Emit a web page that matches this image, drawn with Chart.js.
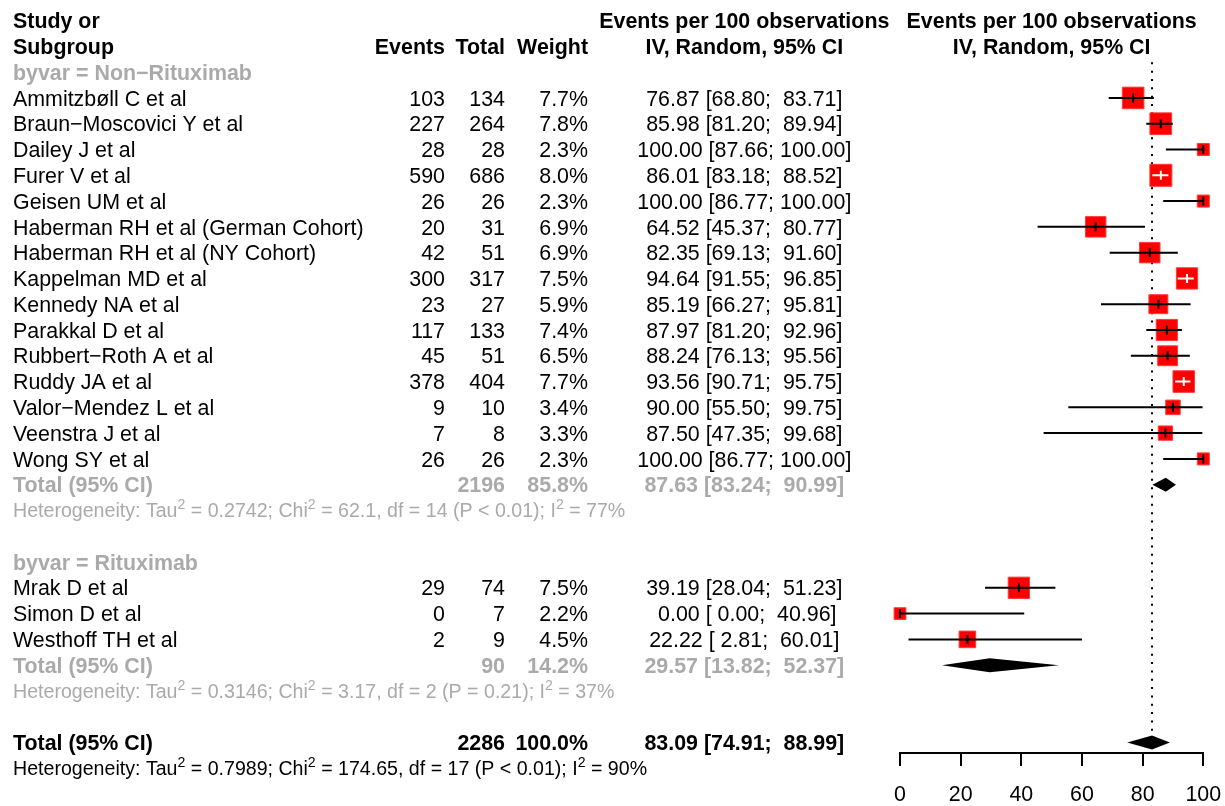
<!DOCTYPE html>
<html>
<head>
<meta charset="utf-8">
<script src="https://cdn.jsdelivr.net/npm/chart.js@4.4.0/dist/chart.umd.min.js"></script>
<style>
  html, body { margin: 0; padding: 0; background: #ffffff; }
  canvas { display: block; }
</style>
</head>
<body>
<canvas id="forest" width="1225" height="806"></canvas>
<script>
// ---- Study-level data -------------------------------------------------
const studyLabels = [
  "Ammitzbøll C et al", "Braun−Moscovici Y et al", "Dailey J et al", "Furer V et al",
  "Geisen UM et al", "Haberman RH et al (German Cohort)", "Haberman RH et al (NY Cohort)",
  "Kappelman MD et al", "Kennedy NA et al", "Parakkal D et al", "Rubbert−Roth A et al",
  "Ruddy JA et al", "Valor−Mendez L et al", "Veenstra J et al", "Wong SY et al",
  "Mrak D et al", "Simon D et al", "Westhoff TH et al"
];
const studyGroup = [0,0,0,0,0,0,0,0,0,0,0,0,0,0,0,1,1,1];
const studyEvents = [103,227,28,590,26,20,42,300,23,117,45,378,9,7,26,29,0,2];
const studyTotals = [134,264,28,686,26,31,51,317,27,133,51,404,10,8,26,74,7,9];
const studyWeights = [7.7,7.8,2.3,8.0,2.3,6.9,6.9,7.5,5.9,7.4,6.5,7.7,3.4,3.3,2.3,7.5,2.2,4.5];
const studyEst = [76.87,85.98,100.00,86.01,100.00,64.52,82.35,94.64,85.19,87.97,88.24,93.56,90.00,87.50,100.00,39.19,0.00,22.22];
const studyLo  = [68.80,81.20,87.66,83.18,86.77,45.37,69.13,91.55,66.27,81.20,76.13,90.71,55.50,47.35,86.77,28.04,0.00,2.81];
const studyHi  = [83.71,89.94,100.00,88.52,100.00,80.77,91.60,96.85,95.81,92.96,95.56,95.75,99.75,99.68,100.00,51.23,40.96,60.01];

// ---- Subgroup summaries -----------------------------------------------
const groupNames = ["byvar = Non−Rituximab", "byvar = Rituximab"];
const groupTotals = [2196, 90];
const groupWeights = [85.8, 14.2];
const groupEst = [87.63, 29.57];
const groupLo = [83.24, 13.82];
const groupHi = [90.99, 52.37];
const groupTau2 = ["0.2742", "0.3146"];
const groupChi2 = ["62.1", "3.17"];
const groupDf = [14, 2];
const groupP = ["P < 0.01", "P = 0.21"];
const groupI2 = [77, 37];

// ---- Overall summary --------------------------------------------------
const overallTotal = 2286;
const overallWeight = 100.0;
const overallEst = 83.09;
const overallLo = 74.91;
const overallHi = 88.99;
const overallTau2 = "0.7989";
const overallChi2 = "174.65";
const overallDf = 17;
const overallP = "P < 0.01";
const overallI2 = 90;

// ---- Axis ticks --------------------------------------------------------
const xTicks = [0, 20, 40, 60, 80, 100];

// ---- Layout helpers ----------------------------------------------------
const FONT = "'Liberation Sans', Arial, Helvetica, sans-serif";
const GRAY = '#aaaaaa';
const MAIN_SIZE = 21.4;
const HET_SIZE = 19.6;
const COL = { study: 13, events: 445, total: 505, weight: 588, ci: 744.3 };

function pad(str, width) {
  while (str.length < width) str = ' ' + str;
  return str;
}
function ciText(est, lo, hi) {
  return pad(est.toFixed(2), 5) + ' [' + pad(lo.toFixed(2), 5) + '; ' + pad(hi.toFixed(2), 6) + ']';
}
function squareSide(w) { return 7.6 * Math.sqrt(w) + 0.5; }

// Row bookkeeping: rows 0-1 are headers, then each subgroup block.
const rows = [];
const studyRow = [];
let r = 2;
groupNames.forEach((g, gi) => {
  rows.push({ kind: 'group', row: r++, gi });
  studyLabels.forEach((s, i) => {
    if (studyGroup[i] === gi) { studyRow[i] = r; rows.push({ kind: 'study', row: r++, i }); }
  });
  rows.push({ kind: 'subtotal', row: r++, gi });
  rows.push({ kind: 'het', row: r++, gi });
  r++;
});
const overallRow = r;
rows.push({ kind: 'overall', row: r++ });
rows.push({ kind: 'overallHet', row: r++ });

const squarePoints = studyLabels.map((s, i) => ({ x: studyEst[i], y: studyRow[i] }));

function text(ctx, str, x, y, align, bold, color, size) {
  ctx.font = (bold ? 'bold ' : '') + size + 'px ' + FONT;
  ctx.fillStyle = color;
  ctx.textAlign = align;
  ctx.textBaseline = 'alphabetic';
  ctx.fillText(str, x, y + size * 0.358);
}
function hetText(ctx, parts, x, y, color) {
  ctx.fillStyle = color;
  ctx.textAlign = 'left';
  ctx.textBaseline = 'alphabetic';
  let cx = x;
  const base = y + HET_SIZE * 0.358;
  parts.forEach((p, k) => {
    const sup = k % 2 === 1;
    ctx.font = (sup ? HET_SIZE * 0.72 : HET_SIZE) + 'px ' + FONT;
    ctx.fillText(p, cx, sup ? base - HET_SIZE * 0.42 : base);
    cx += ctx.measureText(p).width;
  });
}
function hetParts(tau2, chi2, df, p, i2) {
  return ['Heterogeneity: Tau', '2', ' = ' + tau2 + '; Chi', '2',
          ' = ' + chi2 + ', df = ' + df + ' (' + p + '); I', '2', ' = ' + i2 + '%'];
}

const forestPlugin = {
  id: 'forestPlot',
  beforeDatasetsDraw(chart) {
    const { ctx, scales: { x, y } } = chart;
    // dotted reference line at the overall estimate
    ctx.save();
    ctx.strokeStyle = '#000';
    ctx.lineWidth = 2;
    ctx.setLineDash([2, 6.33]);
    ctx.beginPath();
    const px = x.getPixelForValue(overallEst);
    ctx.moveTo(px, y.getPixelForValue(1.62));
    ctx.lineTo(px, y.getPixelForValue(overallRow));
    ctx.stroke();
    ctx.restore();
  },
  afterDatasetsDraw(chart) {
    const { ctx, scales: { x, y } } = chart;
    ctx.save();
    // confidence intervals over the squares
    studyLabels.forEach((s, i) => {
      const py = y.getPixelForValue(studyRow[i]);
      const pl = x.getPixelForValue(studyLo[i]);
      const ph = x.getPixelForValue(studyHi[i]);
      const pe = x.getPixelForValue(studyEst[i]);
      const half = (squareSide(studyWeights[i]) + 1) / 2;
      const inside = pl >= pe - half && ph <= pe + half;
      ctx.strokeStyle = inside ? '#ffffff' : '#000000';
      ctx.lineWidth = 2;
      ctx.beginPath();
      ctx.moveTo(pl, py); ctx.lineTo(ph, py);
      ctx.moveTo(pe, py - 4.5); ctx.lineTo(pe, py + 4.5);
      ctx.stroke();
    });
    // summary diamonds
    const diamond = (est, lo, hi, row) => {
      const py = y.getPixelForValue(row);
      ctx.fillStyle = '#000';
      ctx.beginPath();
      ctx.moveTo(x.getPixelForValue(lo), py);
      ctx.lineTo(x.getPixelForValue(est), py - 7);
      ctx.lineTo(x.getPixelForValue(hi), py);
      ctx.lineTo(x.getPixelForValue(est), py + 7);
      ctx.closePath();
      ctx.fill();
    };
    rows.forEach(rw => {
      if (rw.kind === 'subtotal') diamond(groupEst[rw.gi], groupLo[rw.gi], groupHi[rw.gi], rw.row);
      if (rw.kind === 'overall') diamond(overallEst, overallLo, overallHi, rw.row);
    });
    ctx.restore();
  },
  afterDraw(chart) {
    const { ctx, scales: { x, y } } = chart;
    ctx.save();
    const mid = x.getPixelForValue(50);
    const yp = row => y.getPixelForValue(row);
    // header
    text(ctx, 'Study or', COL.study, yp(0), 'left', true, '#000', MAIN_SIZE);
    text(ctx, 'Subgroup', COL.study, yp(1), 'left', true, '#000', MAIN_SIZE);
    text(ctx, 'Events', COL.events, yp(1), 'right', true, '#000', MAIN_SIZE);
    text(ctx, 'Total', COL.total, yp(1), 'right', true, '#000', MAIN_SIZE);
    text(ctx, 'Weight', COL.weight, yp(1), 'right', true, '#000', MAIN_SIZE);
    text(ctx, 'Events per 100 observations', COL.ci, yp(0), 'center', true, '#000', MAIN_SIZE);
    text(ctx, 'IV, Random, 95% CI', COL.ci, yp(1), 'center', true, '#000', MAIN_SIZE);
    text(ctx, 'Events per 100 observations', mid, yp(0), 'center', true, '#000', MAIN_SIZE);
    text(ctx, 'IV, Random, 95% CI', mid, yp(1), 'center', true, '#000', MAIN_SIZE);

    rows.forEach(rw => {
      const py = yp(rw.row);
      if (rw.kind === 'group') {
        text(ctx, groupNames[rw.gi], COL.study, py, 'left', true, GRAY, MAIN_SIZE);
      } else if (rw.kind === 'study') {
        const i = rw.i;
        text(ctx, studyLabels[i], COL.study, py, 'left', false, '#000', MAIN_SIZE);
        text(ctx, String(studyEvents[i]), COL.events, py, 'right', false, '#000', MAIN_SIZE);
        text(ctx, String(studyTotals[i]), COL.total, py, 'right', false, '#000', MAIN_SIZE);
        text(ctx, studyWeights[i].toFixed(1) + '%', COL.weight, py, 'right', false, '#000', MAIN_SIZE);
        text(ctx, ciText(studyEst[i], studyLo[i], studyHi[i]), COL.ci, py, 'center', false, '#000', MAIN_SIZE);
      } else if (rw.kind === 'subtotal') {
        const g = rw.gi;
        text(ctx, 'Total (95% CI)', COL.study, py, 'left', true, GRAY, MAIN_SIZE);
        text(ctx, String(groupTotals[g]), COL.total, py, 'right', true, GRAY, MAIN_SIZE);
        text(ctx, groupWeights[g].toFixed(1) + '%', COL.weight, py, 'right', true, GRAY, MAIN_SIZE);
        text(ctx, ciText(groupEst[g], groupLo[g], groupHi[g]), COL.ci, py, 'center', true, GRAY, MAIN_SIZE);
      } else if (rw.kind === 'het') {
        const g = rw.gi;
        hetText(ctx, hetParts(groupTau2[g], groupChi2[g], groupDf[g], groupP[g], groupI2[g]), COL.study, py, GRAY);
      } else if (rw.kind === 'overall') {
        text(ctx, 'Total (95% CI)', COL.study, py, 'left', true, '#000', MAIN_SIZE);
        text(ctx, String(overallTotal), COL.total, py, 'right', true, '#000', MAIN_SIZE);
        text(ctx, overallWeight.toFixed(1) + '%', COL.weight, py, 'right', true, '#000', MAIN_SIZE);
        text(ctx, ciText(overallEst, overallLo, overallHi), COL.ci, py, 'center', true, '#000', MAIN_SIZE);
      } else if (rw.kind === 'overallHet') {
        hetText(ctx, hetParts(overallTau2, overallChi2, overallDf, overallP, overallI2), COL.study, py, '#000');
      }
    });
    ctx.restore();
  }
};

function noScalePadding(s) {
  s.paddingLeft = 0; s.paddingRight = 0; s.paddingTop = 0; s.paddingBottom = 0;
}

Chart.defaults.font.family = FONT;

new Chart(document.getElementById('forest'), {
  type: 'scatter',
  data: {
    datasets: [{
      data: squarePoints,
      pointStyle: 'rect',
      pointRadius: c => squareSide(studyWeights[c.dataIndex]) / Math.SQRT2,
      pointHoverRadius: c => squareSide(studyWeights[c.dataIndex]) / Math.SQRT2,
      pointBackgroundColor: '#ff0000',
      pointBorderColor: '#ff3a3a',
      pointBorderWidth: 1,
      clip: false
    }]
  },
  options: {
    responsive: false,
    animation: false,
    events: [],
    layout: { autoPadding: false, padding: { left: 900, right: 21.7, top: 7.7, bottom: 0 } },
    plugins: { legend: { display: false }, tooltip: { enabled: false } },
    scales: {
      x: {
        type: 'linear',
        min: 0,
        max: 100,
        afterBuildTicks: s => { s.ticks = xTicks.map(v => ({ value: v })); },
        afterFit: s => { s.height = 53; noScalePadding(s); },
        grid: { drawOnChartArea: false, drawTicks: true, tickLength: 13, tickWidth: 2, tickColor: '#000', color: '#000', lineWidth: 2 },
        border: { display: true, color: '#000', width: 2 },
        ticks: { color: '#000', font: { size: MAIN_SIZE, family: FONT }, padding: 16, maxRotation: 0, autoSkip: false }
      },
      y: {
        type: 'linear',
        display: false,
        reverse: true,
        min: -0.5,
        max: 28.407,
        afterFit: noScalePadding
      }
    }
  },
  plugins: [forestPlugin]
});
</script>
</body>
</html>
